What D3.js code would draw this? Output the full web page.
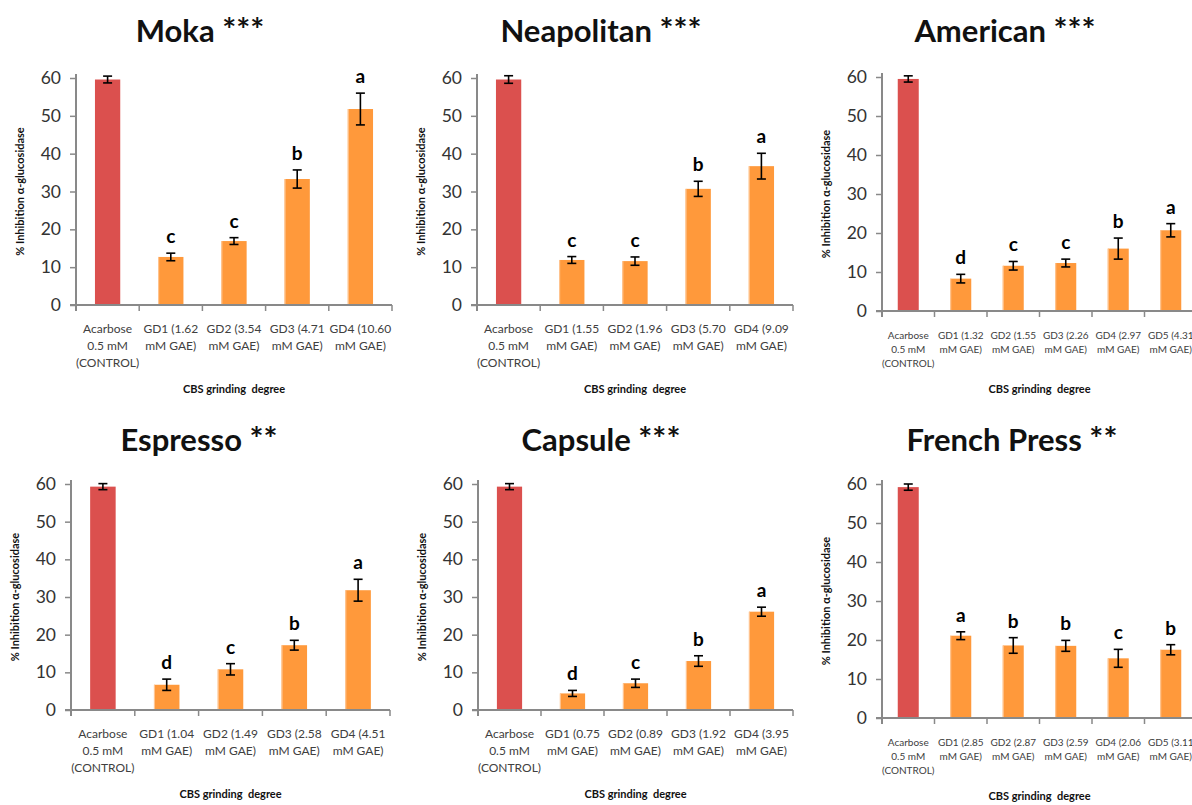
<!DOCTYPE html>
<html>
<head>
<meta charset="utf-8">
<script src="https://cdn.jsdelivr.net/npm/d3@7"></script>
<style>
  body { margin: 0; background: #fff; }
  svg { display: block; font-family: Lato, "Open Sans", sans-serif; }
</style>
</head>
<body>
<div id="chart"></div>
<script>
// values (% inhibition of alpha-glucosidase, mean and SD)
const controlLabel = ["Acarbose", "0.5 mM", "(CONTROL)"];

const mokaGAE = ["1.62", "3.54", "4.71", "10.60"];
const mokaMean = [59.6, 12.7, 16.9, 33.3, 51.8];
const mokaErr = [0.9, 1.0, 0.9, 2.4, 4.2];
const mokaLetters = ["", "c", "c", "b", "a"];

const neapolitanGAE = ["1.55", "1.96", "5.70", "9.09"];
const neapolitanMean = [59.6, 11.9, 11.6, 30.7, 36.7];
const neapolitanErr = [1.0, 0.9, 1.1, 2.0, 3.4];
const neapolitanLetters = ["", "c", "c", "b", "a"];

const americanGAE = ["1.32", "1.55", "2.26", "2.97", "4.31"];
const americanMean = [59.5, 8.3, 11.6, 12.3, 16.0, 20.7];
const americanErr = [0.8, 1.1, 1.1, 1.0, 2.7, 1.7];
const americanLetters = ["", "d", "c", "c", "b", "a"];

const espressoGAE = ["1.04", "1.49", "2.58", "4.51"];
const espressoMean = [59.3, 6.7, 10.8, 17.2, 31.8];
const espressoErr = [0.8, 1.5, 1.5, 1.3, 2.9];
const espressoLetters = ["", "d", "c", "b", "a"];

const capsuleGAE = ["0.75", "0.89", "1.92", "3.95"];
const capsuleMean = [59.3, 4.4, 7.1, 13.0, 26.1];
const capsuleErr = [0.8, 0.8, 1.1, 1.4, 1.2];
const capsuleLetters = ["", "d", "c", "b", "a"];

const frenchGAE = ["2.85", "2.87", "2.59", "2.06", "3.11"];
const frenchMean = [59.2, 21.1, 18.6, 18.5, 15.3, 17.5];
const frenchErr = [0.8, 1.0, 2.0, 1.4, 2.3, 1.3];
const frenchLetters = ["", "a", "b", "b", "c", "b"];

const yTicks = [0, 10, 20, 30, 40, 50, 60];

function labels(gae) {
  return [controlLabel].concat(gae.map((g, i) => ["GD" + (i + 1) + " (" + g, "mM GAE)"]));
}

const panels = [
  { title: "Moka", stars: "***", gae: mokaGAE, mean: mokaMean, err: mokaErr, letters: mokaLetters,
    left: 76, right: 392, top: 78, bottom: 305, tx: 200, ty: 42, fs: 12, lh: 17, xt: 88 },
  { title: "Neapolitan", stars: "***", gae: neapolitanGAE, mean: neapolitanMean, err: neapolitanErr, letters: neapolitanLetters,
    left: 477, right: 793, top: 78, bottom: 305, tx: 601, ty: 42, fs: 12, lh: 17, xt: 88 },
  { title: "American", stars: "***", gae: americanGAE, mean: americanMean, err: americanErr, letters: americanLetters,
    left: 882, right: 1197, top: 77, bottom: 311, tx: 1005, ty: 42, fs: 10, lh: 14, xt: 82 },
  { title: "Espresso", stars: "**", gae: espressoGAE, mean: espressoMean, err: espressoErr, letters: espressoLetters,
    left: 71, right: 390, top: 484, bottom: 710, tx: 199, ty: 451, fs: 12, lh: 17, xt: 88 },
  { title: "Capsule", stars: "***", gae: capsuleGAE, mean: capsuleMean, err: capsuleErr, letters: capsuleLetters,
    left: 478, right: 793, top: 484, bottom: 710, tx: 601, ty: 451, fs: 12, lh: 17, xt: 88 },
  { title: "French Press", stars: "**", gae: frenchGAE, mean: frenchMean, err: frenchErr, letters: frenchLetters,
    left: 882, right: 1197, top: 484, bottom: 718, tx: 1012, ty: 451, fs: 10, lh: 14, xt: 82 }
];

const svg = d3.select("#chart").append("svg")
  .attr("width", 1192)
  .attr("height", 805);

const axisColor = "#898989";

panels.forEach((p) => {
  const cats = labels(p.gae);
  const keys = cats.map((_, i) => i);

  const x = d3.scaleBand().domain(keys).range([p.left, p.right]).padding(0);
  const y = d3.scaleLinear().domain([0, 60]).range([p.bottom, p.top]);
  const bw = x.bandwidth() * 0.4;

  const g = svg.append("g");

  // title
  const t = g.append("text")
    .attr("x", p.tx)
    .attr("y", p.ty)
    .attr("text-anchor", "middle")
    .style("font-size", "31px")
    .style("font-weight", "bold")
    .style("fill", "#111");
  t.append("tspan").text(p.title + " ");
  t.append("tspan").style("font-size", "33px").text(p.stars);

  // y axis
  const yAxis = g.append("g")
    .attr("transform", "translate(" + p.left + ",0)")
    .call(d3.axisLeft(y).tickValues(yTicks).tickSize(6).tickPadding(9));
  yAxis.select(".domain").attr("stroke", axisColor).attr("stroke-width", 2)
    .attr("d", "M0," + (p.bottom + 6) + "V" + (p.top - 4));
  yAxis.selectAll(".tick line").attr("stroke", axisColor).attr("stroke-width", 1.5);
  yAxis.selectAll(".tick text")
    .style("font-size", "17.5px")
    .style("fill", "#333")
    .style("font-family", "Lato, 'Open Sans', sans-serif");

  // x axis line with boundary ticks
  g.append("line")
    .attr("x1", p.left - 6).attr("x2", p.right)
    .attr("y1", p.bottom).attr("y2", p.bottom)
    .attr("stroke", axisColor).attr("stroke-width", 2);
  g.selectAll(".xtick")
    .data(keys.concat([keys.length]))
    .enter()
    .append("line")
    .attr("x1", (d) => p.left + d * x.step())
    .attr("x2", (d) => p.left + d * x.step())
    .attr("y1", p.bottom)
    .attr("y2", p.bottom + 6)
    .attr("stroke", axisColor)
    .attr("stroke-width", 1.5);

  // bars
  g.selectAll(".bar")
    .data(p.mean)
    .enter()
    .append("rect")
    .attr("x", (d, i) => x(i) + (x.bandwidth() - bw) / 2)
    .attr("y", (d) => y(d))
    .attr("width", bw)
    .attr("height", (d) => y(0) - y(d) - 1)
    .attr("fill", (d, i) => (i === 0 ? "#DB504E" : "#FF993B"));

  // light edge on the orange bars
  g.selectAll(".edge")
    .data(p.mean.slice(1))
    .enter()
    .append("line")
    .attr("x1", (d, i) => x(i + 1) + (x.bandwidth() - bw) / 2 + 0.5)
    .attr("x2", (d, i) => x(i + 1) + (x.bandwidth() - bw) / 2 + 0.5)
    .attr("y1", (d) => y(d))
    .attr("y2", y(0) - 1)
    .attr("stroke", "#FFC898")
    .attr("stroke-width", 1);

  // error bars
  const eb = g.selectAll(".err")
    .data(p.mean)
    .enter()
    .append("g")
    .attr("stroke", "#000")
    .attr("stroke-width", 1.6);
  eb.append("line")
    .attr("x1", (d, i) => x(i) + x.bandwidth() / 2)
    .attr("x2", (d, i) => x(i) + x.bandwidth() / 2)
    .attr("y1", (d, i) => y(d + p.err[i]))
    .attr("y2", (d, i) => y(d - p.err[i]));
  [1, -1].forEach((s) => {
    eb.append("line")
      .attr("x1", (d, i) => x(i) + x.bandwidth() / 2 - 4.5)
      .attr("x2", (d, i) => x(i) + x.bandwidth() / 2 + 4.5)
      .attr("y1", (d, i) => y(d + s * p.err[i]))
      .attr("y2", (d, i) => y(d + s * p.err[i]));
  });

  // significance letters
  g.selectAll(".letter")
    .data(p.mean)
    .enter()
    .append("text")
    .attr("x", (d, i) => x(i) + x.bandwidth() / 2)
    .attr("y", (d, i) => y(d + p.err[i]) - 10)
    .attr("text-anchor", "middle")
    .style("font-size", "19px")
    .style("font-weight", "bold")
    .style("fill", "#000")
    .text((d, i) => p.letters[i]);

  // category labels
  const cl = g.selectAll(".cat")
    .data(cats)
    .enter()
    .append("text")
    .attr("text-anchor", "middle")
    .style("font-size", p.fs + "px")
    .style("fill", "#404040");
  cl.selectAll("tspan")
    .data((d, i) => d.map((line) => ({ line: line, i: i })))
    .enter()
    .append("tspan")
    .attr("x", (d) => x(d.i) + x.bandwidth() / 2)
    .attr("y", (d, j) => p.bottom + 28 + j * p.lh)
    .text((d) => d.line);

  // axis titles
  g.append("text")
    .attr("x", (p.left + p.right) / 2)
    .attr("y", p.bottom + p.xt)
    .attr("text-anchor", "middle")
    .attr("xml:space", "preserve")
    .style("white-space", "pre")
    .style("font-size", "11px")
    .style("font-weight", "bold")
    .style("fill", "#111")
    .text("CBS grinding  degree");

  g.append("text")
    .attr("transform", "translate(" + (p.left - 52) + "," + (p.top + p.bottom) / 2 + ") rotate(-90)")
    .attr("text-anchor", "middle")
    .style("font-size", "11px")
    .style("font-weight", "bold")
    .style("fill", "#111")
    .text("% Inhibition  α-glucosidase");
});
</script>
</body>
</html>
